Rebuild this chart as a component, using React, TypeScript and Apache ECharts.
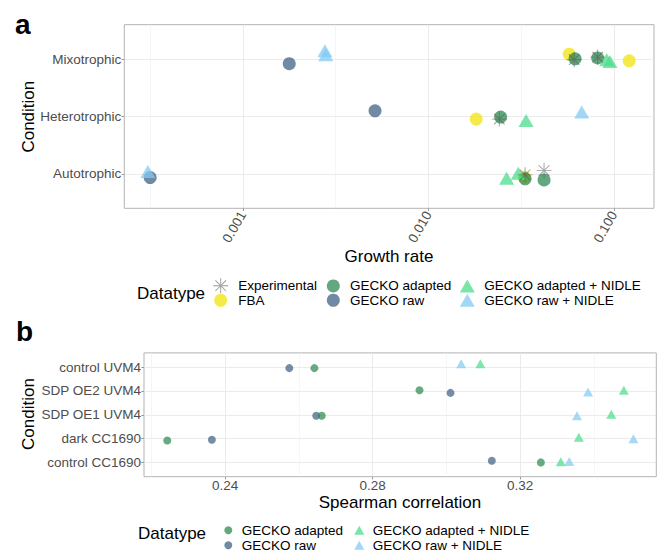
import React, { useEffect, useRef } from 'react';
import * as echarts from 'echarts';

const FONT = '"Liberation Sans", Arial, Helvetica, sans-serif';

// ---------- Panel a: growth rate ----------
const growthConditions = ['Autotrophic', 'Heterotrophic', 'Mixotrophic'];
const growthTicks = [0.001, 0.01, 0.1];
const growthMinorTicks = [0.000316, 0.00316, 0.0316];
const growthRange = [0.00023, 0.1643];

const expRate = [0.061, 0.0817, 0.0241, 0.0332, 0.042];
const expCond = ['Mixotrophic', 'Mixotrophic', 'Heterotrophic', 'Autotrophic', 'Autotrophic'];
const expJit = [-0.01, 0.035, -0.045, -0.017, 0.057];

const fbaRate = [0.0574, 0.1208, 0.0181, 0.0329];
const fbaCond = ['Mixotrophic', 'Mixotrophic', 'Heterotrophic', 'Autotrophic'];
const fbaJit = [0.087, -0.03, -0.045, -0.057];

const adaptedRate = [0.0617, 0.0817, 0.0245, 0.0332, 0.042];
const adaptedCond = ['Mixotrophic', 'Mixotrophic', 'Heterotrophic', 'Autotrophic', 'Autotrophic'];
const adaptedJit = [0.005, 0.02, -0.01, -0.087, -0.105];

const rawRate = [0.00178, 0.00516, 0.000317];
const rawCond = ['Mixotrophic', 'Heterotrophic', 'Autotrophic'];
const rawJit = [-0.08, 0.1, -0.065];

const adaptedNidleRate = [0.0914, 0.0951, 0.0336, 0.0264, 0.0305];
const adaptedNidleCond = ['Mixotrophic', 'Mixotrophic', 'Heterotrophic', 'Autotrophic', 'Autotrophic'];
const adaptedNidleJit = [-0.01, -0.04, -0.07, -0.075, 0.012];

const rawNidleRate = [0.00277, 0.0028, 0.067, 0.000308];
const rawNidleCond = ['Mixotrophic', 'Mixotrophic', 'Heterotrophic', 'Autotrophic'];
const rawNidleJit = [0.145, 0.075, 0.077, 0.04];

// ---------- Panel b: Spearman correlation ----------
const corrConditions = ['control CC1690', 'dark CC1690', 'SDP OE1 UVM4', 'SDP OE2 UVM4', 'control UVM4'];
const corrTicks = [0.24, 0.28, 0.32];
const corrMinorTicks = [0.22, 0.26, 0.3, 0.34];
const corrRange = [0.218, 0.3569];
const corrOrder = ['control UVM4', 'SDP OE2 UVM4', 'SDP OE1 UVM4', 'dark CC1690', 'control CC1690'];

const corrAdapted = [0.2642, 0.2927, 0.2662, 0.2243, 0.3256];
const corrAdaptedJit = [-0.04, 0.03, -0.04, -0.08, 0.0];
const corrRaw = [0.2574, 0.3011, 0.2647, 0.2364, 0.3123];
const corrRawJit = [-0.04, -0.08, -0.04, -0.05, 0.07];
const corrAdaptedNidle = [0.3092, 0.3481, 0.3447, 0.3359, 0.331];
const corrAdaptedNidleJit = [0.14, 0.03, 0.02, 0.06, 0.03];
const corrRawNidle = [0.304, 0.3384, 0.3354, 0.3507, 0.3333];
const corrRawNidleJit = [0.14, -0.04, -0.04, -0.01, 0.04];

const STAR =
  'path://M0 9.4H20V10.6H0Z M9.4 0H10.6V20H9.4Z M3.354 2.506L17.494 16.646L16.646 17.494L2.506 3.354Z M3.354 17.494L17.494 3.354L16.646 2.506L2.506 16.646Z';

const COLORS: Record<string, string> = {
  Experimental: '#555555',
  FBA: '#f3e61a',
  'GECKO adapted': '#2e8a52',
  'GECKO raw': '#406384',
  'GECKO adapted + NIDLE': '#4bde8b',
  'GECKO raw + NIDLE': '#83caf3',
};

const App: React.FC = () => {
  const ref = useRef<HTMLDivElement>(null);

  useEffect(() => {
    if (!ref.current) return;
    const chart = echarts.init(ref.current, undefined, { renderer: 'svg' });
    const log = Math.log10;

    const seriesA = (name: string, rates: number[], conds: string[], jit: number[], symbol: string, size: any, opacity: number, z: number) => ({
      type: 'scatter',
      name,
      xAxisIndex: 0,
      yAxisIndex: 0,
      symbol,
      symbolSize: size,
      z,
      silent: true,
      itemStyle: { color: COLORS[name], opacity },
      data: rates.map((r, i) => [log(r), growthConditions.indexOf(conds[i]) + 1 + jit[i]]),
    });

    const seriesB = (name: string, vals: number[], jit: number[], symbol: string, size: any, z: number) => ({
      type: 'scatter',
      name,
      xAxisIndex: 2,
      yAxisIndex: 1,
      symbol,
      symbolSize: size,
      z,
      silent: true,
      itemStyle: { color: COLORS[name], opacity: 0.72 },
      data: vals.map((v, i) => [v, corrConditions.indexOf(corrOrder[i]) + 1 + jit[i]]),
    });

    const tickLabel = { fontSize: 13.5, color: '#4d4d4d', fontFamily: FONT };
    const tick = { show: true, length: 2.7, lineStyle: { color: '#9a9a9a', width: 1 } };
    const major = { show: true, lineStyle: { color: '#e6e6e6', width: 0.8 } };
    const minor = { show: true, lineStyle: { color: '#f0f0f0', width: 0.6 } };

    const legendItem = (name: string, left: number, top: number, w: number, h: number, pad: number) => ({
      data: [name],
      left,
      top,
      orient: 'vertical',
      padding: 0,
      itemWidth: w,
      itemHeight: h,
      selectedMode: false,
      textStyle: { fontSize: 13.5, color: '#000', fontFamily: FONT, padding: [0, 0, 0, pad] },
    });

    const text = (t: string, x: number, y: number, size: number, opts: any = {}) => ({
      type: 'text',
      x,
      y,
      rotation: opts.rotation || 0,
      style: {
        text: t,
        fontSize: size,
        fontFamily: FONT,
        fontWeight: opts.bold ? 'bold' : 'normal',
        fill: '#000',
        align: opts.align || 'center',
        verticalAlign: 'middle',
      },
    });

    const option: any = {
      animation: false,
      backgroundColor: '#fff',
      grid: [
        { left: 124.3, top: 24.7, width: 529.7, height: 183.6, show: true, borderColor: '#b3b3b3', borderWidth: 1, containLabel: false },
        { left: 144, top: 352.9, width: 512.3, height: 123.8, show: true, borderColor: '#b3b3b3', borderWidth: 1, containLabel: false },
      ],
      xAxis: [
        {
          gridIndex: 0, type: 'value', min: log(growthRange[0]), max: log(growthRange[1]), position: 'bottom',
          axisLine: { show: false },
          axisTick: { ...tick, customValues: growthTicks.map(log) },
          axisLabel: { ...tickLabel, customValues: growthTicks.map(log), rotate: 60, margin: 4, formatter: (v: number) => Math.pow(10, v).toFixed(3) },
          splitLine: major,
        },
        {
          gridIndex: 0, type: 'value', min: log(growthRange[0]), max: log(growthRange[1]), position: 'top',
          axisLine: { show: false },
          axisTick: { show: false, customValues: growthMinorTicks.map(log) },
          axisLabel: { show: false },
          splitLine: minor,
        },
        {
          gridIndex: 1, type: 'value', min: corrRange[0], max: corrRange[1], position: 'bottom',
          axisLine: { show: false },
          axisTick: { ...tick, customValues: corrTicks },
          axisLabel: { ...tickLabel, customValues: corrTicks, margin: 2, formatter: (v: number) => v.toFixed(2) },
          splitLine: major,
        },
        {
          gridIndex: 1, type: 'value', min: corrRange[0], max: corrRange[1], position: 'top',
          axisLine: { show: false },
          axisTick: { show: false, customValues: corrMinorTicks },
          axisLabel: { show: false },
          splitLine: minor,
        },
      ],
      yAxis: [
        {
          gridIndex: 0, type: 'value', min: 0.4, max: 3.6,
          axisLine: { show: false },
          axisTick: { ...tick, customValues: [1, 2, 3] },
          axisLabel: { ...tickLabel, customValues: [1, 2, 3], margin: 3, formatter: (v: number) => growthConditions[Math.round(v) - 1] },
          splitLine: major,
        },
        {
          gridIndex: 1, type: 'value', min: 0.4, max: 5.6,
          axisLine: { show: false },
          axisTick: { ...tick, customValues: [1, 2, 3, 4, 5] },
          axisLabel: { ...tickLabel, customValues: [1, 2, 3, 4, 5], margin: 3, formatter: (v: number) => corrConditions[Math.round(v) - 1] },
          splitLine: major,
        },
      ],
      legend: [
        legendItem('Experimental', 213.2, 278.2, 15, 15, 5),
        legendItem('FBA', 214.2, 293.25, 13, 13, 6),
        legendItem('GECKO adapted', 326.8, 278.95, 13, 13, 5.2),
        legendItem('GECKO raw', 326.8, 293.25, 13, 13, 5.2),
        legendItem('GECKO adapted + NIDLE', 459.8, 278.95, 15, 13, 4.5),
        legendItem('GECKO raw + NIDLE', 459.8, 293.25, 15, 13, 4.5),
        legendItem('GECKO adapted', 224.3, 523.25, 8, 8, 4.4),
        legendItem('GECKO raw', 224.3, 538.25, 8, 8, 4.4),
        legendItem('GECKO adapted + NIDLE', 354.3, 523.25, 10, 9, 3.4),
        legendItem('GECKO raw + NIDLE', 354.3, 538.25, 10, 9, 3.4),
      ],
      graphic: [
        text('a', 15, 24, 28, { bold: true, align: 'left' }),
        text('b', 16, 331.4, 28, { bold: true, align: 'left' }),
        text('Condition', 28.3, 116.7, 17, { rotation: Math.PI / 2 }),
        text('Growth rate', 389, 256.7, 17),
        text('Datatype', 137, 293.3, 17, { align: 'left' }),
        text('Condition', 28.5, 414, 17, { rotation: Math.PI / 2 }),
        text('Spearman correlation', 400, 502.5, 17),
        text('Datatype', 138, 533.3, 17, { align: 'left' }),
      ],
      series: [
        seriesA('FBA', fbaRate, fbaCond, fbaJit, 'circle', 13, 0.8, 2),
        seriesA('GECKO raw', rawRate, rawCond, rawJit, 'circle', 13, 0.75, 3),
        seriesA('GECKO adapted', adaptedRate, adaptedCond, adaptedJit, 'circle', 13, 0.75, 4),
        seriesA('GECKO raw + NIDLE', rawNidleRate, rawNidleCond, rawNidleJit, 'triangle', [15, 13], 0.75, 5),
        seriesA('GECKO adapted + NIDLE', adaptedNidleRate, adaptedNidleCond, adaptedNidleJit, 'triangle', [15, 13], 0.75, 6),
        seriesA('Experimental', expRate, expCond, expJit, STAR, 15, 0.6, 7),
        seriesB('GECKO raw', corrRaw, corrRawJit, 'circle', 8, 3),
        seriesB('GECKO adapted', corrAdapted, corrAdaptedJit, 'circle', 8, 4),
        seriesB('GECKO raw + NIDLE', corrRawNidle, corrRawNidleJit, 'triangle', [10, 9], 5),
        seriesB('GECKO adapted + NIDLE', corrAdaptedNidle, corrAdaptedNidleJit, 'triangle', [10, 9], 6),
      ],
    };

    chart.setOption(option);
    return () => chart.dispose();
  }, []);

  return <div ref={ref} style={{ position: 'fixed', left: 0, top: 0, width: 659, height: 554 }} />;
};

export default App;
